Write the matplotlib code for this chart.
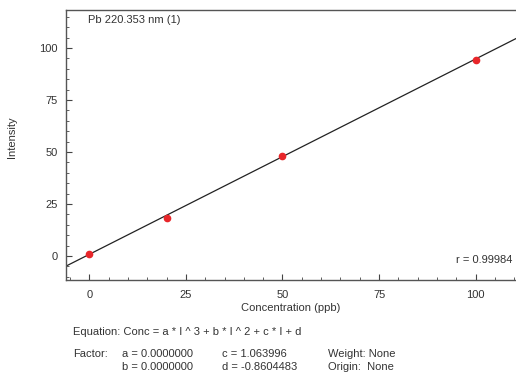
import numpy as np
import matplotlib.pyplot as plt
from matplotlib.ticker import MultipleLocator

plt.rcParams['font.family'] = ['Liberation Sans', 'DejaVu Sans']
plt.rcParams['font.size'] = 8

# calibration standards
conc = [0, 20, 50, 100]
intensity = [1.0, 18.5, 48.3, 94.3]

# fit factors (Conc = c * I + d)
c_fac = 1.063996
d_fac = -0.8604483
r_val = 0.99984

x_ticks = [0, 25, 50, 75, 100]
y_ticks = [0, 25, 50, 75, 100]

txt_col = '#333333'

fig = plt.figure(figsize=(5.16, 3.72), dpi=100)
ax = fig.add_axes([66 / 516, 1 - 280 / 372, 450 / 516, 270 / 372])

ax.set_xlim(-6, 110.4)
ax.set_ylim(-11.5, 118.3)

# regression line across the full axis
xl = np.array(ax.get_xlim())
ax.plot(xl, (xl - d_fac) / c_fac, color='#222222', lw=0.9, zorder=2)
ax.plot(conc, intensity, 'o', color='#e8262a', ms=4.5, zorder=3)

ax.set_xticks(x_ticks)
ax.set_yticks(y_ticks)
ax.xaxis.set_minor_locator(MultipleLocator(5))
ax.yaxis.set_minor_locator(MultipleLocator(5))
ax.tick_params(which='major', direction='in', length=4, width=0.8,
               colors='#444444', labelcolor=txt_col, labelsize=8)
ax.tick_params(axis='x', which='major', pad=7)
ax.tick_params(axis='y', which='major', pad=5.8)
ax.tick_params(which='minor', direction='in', length=2.2, width=0.6, colors='#444444')
ax.tick_params(top=False, right=False)

for side in ['left', 'bottom', 'top']:
    ax.spines[side].set_color('#555555')
    ax.spines[side].set_linewidth(1.0)
ax.spines['right'].set_visible(False)

ax.set_xlabel('Concentration (ppb)', color=txt_col, fontsize=8, labelpad=2.5)
ax.set_ylabel('Intensity', color=txt_col, fontsize=8)
ax.yaxis.set_label_coords(-0.11, 0.53)

ax.text(0.049, 0.963, 'Pb 220.353 nm (1)', transform=ax.transAxes,
        ha='left', va='center', color=txt_col, fontsize=8)
ax.text(0.993, 0.074, f'r = {r_val:.5f}', transform=ax.transAxes,
        ha='right', va='center', color=txt_col, fontsize=8)

# equation block below the plot
def ftext(px, py, s):
    fig.text(px / 516, 1 - py / 372, s, ha='left', va='center', color=txt_col, fontsize=8)

ftext(73, 332, 'Equation: Conc = a * I ^ 3 + b * I ^ 2 + c * I + d')
ftext(73, 354, 'Factor:')
ftext(122, 354, 'a = 0.0000000')
ftext(122, 367, 'b = 0.0000000')
ftext(222, 354, f'c = {c_fac:.6f}')
ftext(222, 367, f'd = {d_fac:.7f}')
ftext(328, 354, 'Weight: None')
ftext(328, 367, 'Origin:  None')

fig.savefig('out.png', dpi=100)
